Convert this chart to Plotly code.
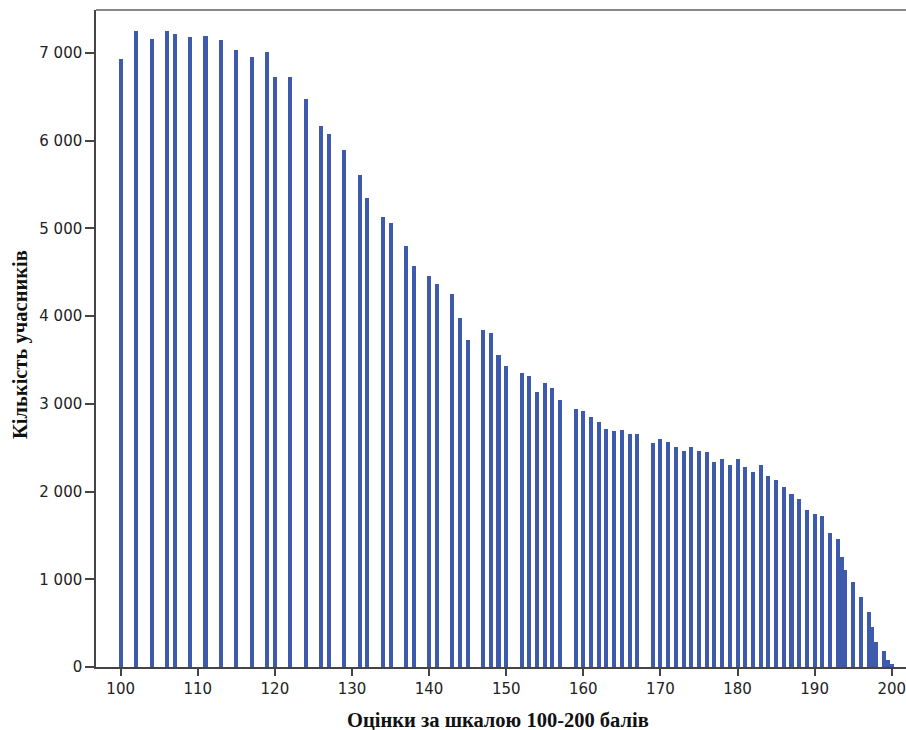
import plotly.graph_objects as go

scores = [100, 102, 104, 106, 107, 109, 111, 113, 115, 117, 119, 120, 122, 124, 126, 127,
          129, 131, 132, 134, 135, 137, 138, 140, 141, 143, 144, 145, 147, 148, 149, 150,
          152, 153, 154, 155, 156, 157, 159, 160, 161, 162, 163, 164, 165, 166, 167,
          169, 170, 171, 172, 173, 174, 175, 176, 177, 178, 179, 180, 181, 182, 183, 184,
          185, 186, 187, 188, 189, 190, 191, 192, 193, 193.5, 194, 195, 196, 197, 197.5,
          198, 199, 199.5, 200]
counts = [6928, 7251, 7160, 7255, 7217, 7183, 7194, 7145, 7031, 6951, 7012, 6730, 6723, 6472, 6172, 6077,
          5894, 5609, 5347, 5127, 5059, 4800, 4575, 4461, 4363, 4253, 3982, 3728, 3839, 3808, 3554, 3435,
          3349, 3314, 3132, 3235, 3184, 3041, 2942, 2915, 2850, 2797, 2713, 2691, 2699, 2653, 2660,
          2557, 2600, 2562, 2512, 2459, 2505, 2466, 2451, 2337, 2368, 2306, 2371, 2280, 2227, 2303, 2178,
          2132, 2056, 1972, 1912, 1787, 1741, 1725, 1528, 1459, 1250, 1106, 966, 802, 631, 460,
          289, 186, 80, 34]

x_ticks = list(range(100, 201, 10))
y_ticks = [0, 1000, 2000, 3000, 4000, 5000, 6000, 7000]
y_ticktext = ["0", "1 000", "2 000", "3 000", "4 000", "5 000", "6 000", "7 000"]
x_title = "Оцінки за шкалою 100-200 балів"
y_title = "Кількість учасників"

tick_font = dict(family="DejaVu Sans, Arial, sans-serif", size=15, color="#222222")
title_font = dict(family="Liberation Serif, Times New Roman, serif", size=20.5, color="#111111")

fig = go.Figure()
fig.add_trace(go.Bar(
    x=scores, y=counts, width=0.52,
    marker=dict(color="#3d5aad", line=dict(width=0)),
))

fig.update_layout(
    width=906, height=730,
    margin=dict(l=96, r=0, t=10, b=63),
    paper_bgcolor="white", plot_bgcolor="white",
    showlegend=False,
    bargap=0,
    font=tick_font,
    xaxis=dict(
        range=[96.8, 201.85], tickvals=x_ticks, showgrid=False, zeroline=False,
        showline=True, linecolor="#444444", linewidth=1.5,
        ticks="outside", ticklen=7, tickcolor="#444444", tickwidth=1.5,
        tickfont=tick_font, ticklabeloverflow="allow",
    ),
    yaxis=dict(
        range=[0, 7490], tickvals=y_ticks, ticktext=y_ticktext, showgrid=False, zeroline=False,
        showline=True, linecolor="#444444", linewidth=1.5,
        ticks="outside", ticklen=9, tickcolor="#444444", tickwidth=1.5,
        tickfont=tick_font,
    ),
    shapes=[dict(type="line", xref="paper", yref="paper", x0=0, x1=1, y0=1, y1=1,
                 line=dict(color="#888888", width=2))],
    annotations=[
        dict(text="<b>" + x_title + "</b>", xref="paper", yref="paper", x=0.496, y=0, yshift=-53,
             xanchor="center", yanchor="middle", showarrow=False, font=title_font),
        dict(text="<b>" + y_title + "</b>", xref="paper", yref="paper", x=0, y=0.49, xshift=-76,
             xanchor="center", yanchor="middle", showarrow=False, textangle=-90, font=title_font),
    ],
)

fig.write_html("out.html", config={"displayModeBar": False},
               post_script="document.body.style.margin='0';document.body.style.overflow='hidden';")
